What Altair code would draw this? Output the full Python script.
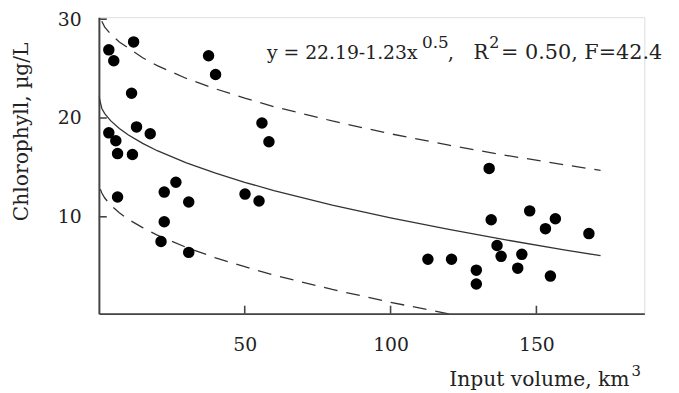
import altair as alt
import pandas as pd

# ---- data ----
pt_x = [3.4, 5.1, 11.9, 11.2, 3.4, 5.8, 6.4, 11.5, 12.9, 17.6, 6.4, 22.4, 26.4, 30.8,
        22.4, 21.3, 30.8, 37.6, 40.0, 50.1, 54.9, 55.9, 58.3,
        112.8, 120.9, 129.4, 129.4, 133.8, 134.5, 136.5, 137.9, 145.0, 143.6, 147.7,
        156.5, 153.1, 168.0, 154.8]
pt_y = [26.9, 25.8, 27.7, 22.5, 18.5, 17.7, 16.4, 16.3, 19.1, 18.4, 12.0, 12.5, 13.5, 11.5,
        9.5, 7.5, 6.4, 26.3, 24.4, 12.3, 11.6, 19.5, 17.6,
        5.7, 5.7, 4.6, 3.2, 14.9, 9.7, 7.1, 6.0, 6.2, 4.8, 10.6,
        9.8, 8.8, 8.3, 4.0]

fit_x = [0, 1, 2, 4, 7, 10, 15, 20, 30, 40, 50, 60, 80, 100, 120, 140, 160, 172]
fit_y = [22.19, 20.96, 20.45, 19.73, 18.94, 18.30, 17.43, 16.69, 15.45, 14.41, 13.49,
         12.66, 11.19, 9.89, 8.72, 7.64, 6.63, 6.06]

up_x = [1, 2, 4, 7, 10, 15, 20, 30, 40, 50, 60, 80, 100, 120, 140, 160, 172]
up_y = [29.8, 29.2, 28.5, 27.7, 27.1, 26.1, 25.3, 24.0, 22.95, 22.0, 21.15, 19.7, 18.4,
        17.25, 16.2, 15.25, 14.7]

lo_x = [0.5, 1, 2, 4, 7, 10, 15, 20, 30, 40, 50, 60, 80, 100, 122]
lo_y = [12.8, 12.4, 11.9, 11.2, 10.4, 9.75, 8.9, 8.15, 6.9, 5.85, 4.95, 4.1, 2.65, 1.35, 0.05]

x_ticks = [50, 100, 150]
y_ticks = [10, 20, 30]

FONT = "DejaVu Serif"
INK = "#222222"
X_DOM = [0, 187]
Y_DOM = [0.2, 30.2]
xs = alt.Scale(domain=X_DOM, nice=False, zero=False)
ys = alt.Scale(domain=Y_DOM, nice=False, zero=False)

x_axis = alt.Axis(values=x_ticks, title=None, ticks=False, tickSize=0, grid=False,
                  labelFont=FONT, labelFontSize=19, labelColor=INK, labelPadding=31,
                  labelBaseline="middle", domainColor="#444444", domainWidth=2)
y_axis = alt.Axis(values=y_ticks, title=None, ticks=False, tickSize=0, grid=False,
                  labelFont=FONT, labelFontSize=19, labelColor=INK, labelPadding=18,
                  labelBaseline="middle", domainColor="#444444", domainWidth=2)


def X(f):
    return alt.X(f, type="quantitative", scale=xs, axis=x_axis)


def Y(f):
    return alt.Y(f, type="quantitative", scale=ys, axis=y_axis)


pts = alt.Chart(pd.DataFrame({"x": pt_x, "y": pt_y})).mark_circle(
    size=135, color="#000000", opacity=1).encode(x=X("x"), y=Y("y"))

fit = alt.Chart(pd.DataFrame({"x": fit_x, "y": fit_y})).mark_line(
    color="#333333", strokeWidth=1.3, clip=True).encode(x=X("x"), y=Y("y"))
up = alt.Chart(pd.DataFrame({"x": up_x, "y": up_y})).mark_line(
    color="#333333", strokeWidth=1.3, strokeDash=[14, 9], clip=True).encode(x=X("x"), y=Y("y"))
lo = alt.Chart(pd.DataFrame({"x": lo_x, "y": lo_y})).mark_line(
    color="#333333", strokeWidth=1.3, strokeDash=[14, 9], clip=True).encode(x=X("x"), y=Y("y"))

xt = alt.Chart(pd.DataFrame({"x": x_ticks})).mark_rule(color="#444444", strokeWidth=1.6).encode(
    x=X("x"), y=alt.datum(0.2), y2=alt.datum(1.0))
yt = alt.Chart(pd.DataFrame({"y": y_ticks})).mark_rule(color="#444444", strokeWidth=1.6).encode(
    y=Y("y"), x=alt.datum(0), x2=alt.datum(2.7))


def label(text, px, py, size, align="left", angle=0):
    return alt.Chart(pd.DataFrame({"k": [0]})).mark_text(
        text=text, align=align, baseline="alphabetic", font=FONT, fontSize=size,
        color=INK, angle=angle).encode(x=alt.value(px), y=alt.value(py))


texts = [
    label("y = 22.19-1.23x", 170, 42, 19),
    label("0.5", 327, 31, 17),
    label(",", 353, 42, 20),
    label("R", 379, 42, 20),
    label("2", 395, 31, 16),
    label("= 0.50, F=42.4", 407, 42, 21),
    label("Input volume, km", 537, 373, 20.5, align="right"),
    label("3", 539, 363, 15),
    label("Chlorophyll, µg/L", -72, 116, 20.5, align="center", angle=270),
]

chart = alt.layer(up, lo, fit, xt, yt, pts, *texts).properties(
    width=552, height=300,
    autosize=alt.AutoSizeParams(type="none"),
    padding={"left": 92, "top": 7, "right": 27, "bottom": 78},
).configure_view(stroke=None).configure(background="white")

chart.save("out.html", embed_options={"renderer": "svg", "actions": False})
